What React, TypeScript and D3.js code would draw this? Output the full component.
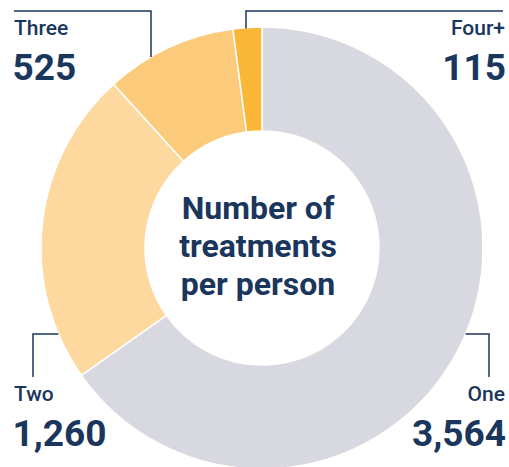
import React from "react";
import * as d3 from "d3";

const categories = ["One", "Two", "Three", "Four+"];
const values = [3564, 1260, 525, 115];
const colors = ["#d7d8e0", "#fdd9a0", "#fcca7b", "#f9b637"];
const centerLines = ["Number of", "treatments", "per person"];

const W = 509;
const H = 467;
const cx = 262;
const cy = 248;
const R = 221;
const r = 117;
const ink = "#1b365d";
const font = "Roboto, 'Noto Sans', sans-serif";

export default function App() {
  const pie = d3
    .pie<number>()
    .sort(null)
    .value((d) => d)
    .startAngle(0)
    .endAngle(2 * Math.PI);
  const arcs = pie(values);
  const arc = d3.arc<d3.PieArcDatum<number>>().innerRadius(r).outerRadius(R);
  const fmt = d3.format(",");

  const yOnCircle = (x: number, top: boolean) => {
    const dx = x - cx;
    const dy = Math.sqrt(Math.max(0, R * R - dx * dx));
    return top ? cy - dy : cy + dy;
  };

  const labels = [
    { i: 0, x: 505, anchor: "end", ny: 401, vy: 446 },
    { i: 1, x: 14, anchor: "start", ny: 401, vy: 446 },
    { i: 2, x: 14, anchor: "start", ny: 35, vy: 80 },
    { i: 3, x: 505, anchor: "end", ny: 35, vy: 80 },
  ];

  const topY = 11;
  const botY = 334;
  const threeX = 151;
  const fourX = 246;
  const twoX = 33;
  const oneX = 489;
  const leaders = [
    `M${threeX},${yOnCircle(threeX, true)}V${topY}H14`,
    `M${fourX},${yOnCircle(fourX, true) + 1}V${topY}H503`,
    `M${cx - Math.sqrt(R * R - (botY - cy) ** 2)},${botY}H${twoX}V377`,
    `M${cx + Math.sqrt(R * R - (botY - cy) ** 2)},${botY}H${oneX}V377`,
  ];

  return (
    <svg
      width={W}
      height={H}
      style={{ position: "absolute", left: 0, top: 0, background: "#fff" }}
    >
      <g transform={`translate(${cx},${cy})`}>
        {arcs.map((a, i) => (
          <path
            key={categories[i]}
            d={arc(a) || ""}
            fill={colors[i]}
            stroke="#fff"
            strokeWidth={1.5}
          />
        ))}
      </g>
      {leaders.map((d, i) => (
        <path key={i} d={d} fill="none" stroke={ink} strokeWidth={1.5} />
      ))}
      {labels.map((l) => (
        <g key={categories[l.i]} fontFamily={font} fill={ink} textAnchor={l.anchor as any}>
          <text x={l.x} y={l.ny} fontSize={21} fontWeight={500}>
            {categories[l.i]}
          </text>
          <text x={l.x + (l.anchor === "end" ? 1 : -1.5)} y={l.vy} fontSize={37} fontWeight={700}>
            {fmt(values[l.i])}
          </text>
        </g>
      ))}
      <g fontFamily={font} fill={ink} fontWeight={700} fontSize={32} textAnchor="middle">
        {centerLines.map((t, i) => (
          <text key={t} x={258} y={219 + i * 38}>
            {t}
          </text>
        ))}
      </g>
    </svg>
  );
}
